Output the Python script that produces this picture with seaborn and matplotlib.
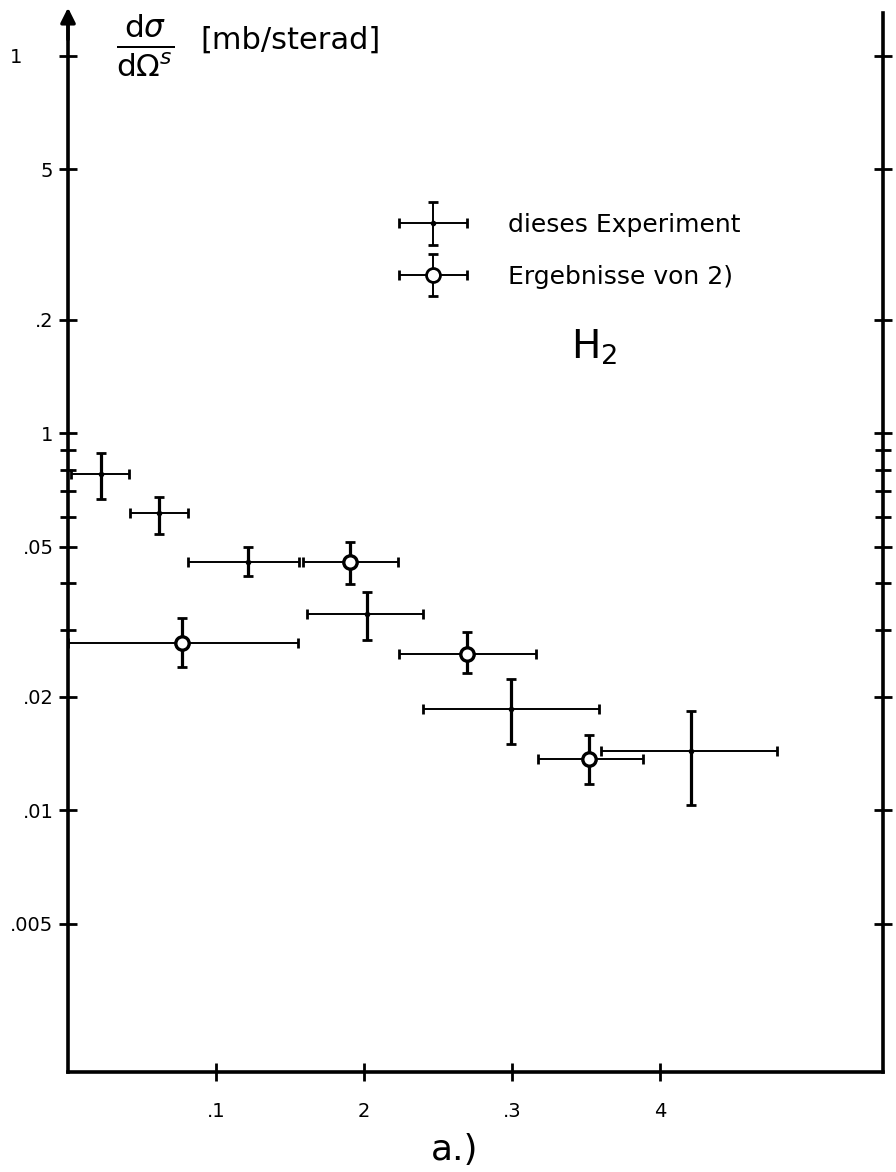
import seaborn as sns
import matplotlib.pyplot as plt
import numpy as np
import pandas as pd
from matplotlib.container import ErrorbarContainer
from matplotlib.legend_handler import HandlerErrorbar

# dieses Experiment (Kreuze)
exp_x = [0.0223, 0.0615, 0.1216, 0.2020, 0.2993, 0.4210]
exp_xlo = [0.002, 0.0419, 0.0811, 0.1615, 0.2400, 0.3600]
exp_xhi = [0.0412, 0.0811, 0.1560, 0.2400, 0.3588, 0.4790]
exp_y = [0.0778, 0.0614, 0.0455, 0.0331, 0.01853, 0.01434]
exp_ylo = [0.0667, 0.0540, 0.0418, 0.0282, 0.01496, 0.01031]
exp_yhi = [0.0885, 0.0676, 0.0498, 0.0379, 0.02226, 0.01831]

# Ergebnisse von 2) (Kreise)
ref_x = [0.0770, 0.1905, 0.2696, 0.3520]
ref_xlo = [0.0, 0.1588, 0.2236, 0.3176]
ref_xhi = [0.1554, 0.2230, 0.3162, 0.3885]
ref_y = [0.0277, 0.0455, 0.0259, 0.01365]
ref_ylo = [0.0239, 0.0398, 0.0231, 0.01172]
ref_yhi = [0.0323, 0.0514, 0.0297, 0.0158]

y_ticks = [1, 0.5, 0.2, 0.1, 0.05, 0.02, 0.01, 0.005]
y_labels = ["1     ", "5", ".2", "1", ".05", ".02", ".01", ".005"]
y_minor = [0.09, 0.08, 0.07, 0.06, 0.04, 0.03]
x_ticks = [0.1, 0.2, 0.3, 0.4]
x_labels = [".1", "2", ".3", "4"]

sns.set_theme(style="ticks")
plt.rcParams['font.family'] = ['DejaVu Sans']
plt.rcParams['text.color'] = 'black'

df_exp = pd.DataFrame({'x': exp_x, 'xlo': exp_xlo, 'xhi': exp_xhi,
                       'y': exp_y, 'ylo': exp_ylo, 'yhi': exp_yhi})
df_ref = pd.DataFrame({'x': ref_x, 'xlo': ref_xlo, 'xhi': ref_xhi,
                       'y': ref_y, 'ylo': ref_ylo, 'yhi': ref_yhi})

fig = plt.figure(figsize=(8.96, 11.72), dpi=100)
ax = fig.add_axes([0.0759, 0.0853, 0.9096, 0.9036])


def fehlerbalken(df, fmt, ms, label):
    eb = ax.errorbar(df['x'], df['y'],
                     xerr=[df['x'] - df['xlo'], df['xhi'] - df['x']],
                     yerr=[df['y'] - df['ylo'], df['yhi'] - df['y']],
                     fmt=fmt, ms=ms, mfc='white', mec='black', mew=2, color='black',
                     ecolor='black', elinewidth=1.5, capsize=3.5, capthick=2,
                     label=label, zorder=3)
    bars = eb.lines[2]
    bars[0].set_linewidth(1.4)
    bars[1].set_linewidth(2.3)
    return eb


eb1 = fehlerbalken(df_exp, '.', 4, 'dieses Experiment')
eb2 = fehlerbalken(df_ref, 'o', 10, 'Ergebnisse von 2)')
sns.scatterplot(data=df_ref, x='x', y='y', marker='o', s=85, color='white',
                edgecolor='black', linewidth=2, zorder=4, ax=ax, legend=False)

ax.set_yscale('log')
ax.set_xlim(0, 0.5507)
ax.set_ylim(0.00202, 1.3)
ax.set_yticks(y_ticks)
ax.set_yticklabels(y_labels)
ax.set_yticks(y_minor, minor=True)
ax.yaxis.set_minor_formatter(plt.NullFormatter())
ax.set_xticks(x_ticks)
ax.set_xticklabels(x_labels)
ax.set_xlabel('')
ax.set_ylabel('')

ax.tick_params(axis='y', which='major', direction='inout', length=13, width=2,
               labelsize=14, pad=4, left=True, right=True, colors='black')
ax.tick_params(axis='y', which='minor', direction='inout', length=11, width=2,
               left=True, right=True, colors='black')
ax.tick_params(axis='x', which='major', direction='inout', length=13, width=2,
               labelsize=14, pad=15, colors='black')

for side in ['left', 'bottom', 'right']:
    ax.spines[side].set_linewidth(2.6)
    ax.spines[side].set_color('black')
ax.spines['top'].set_visible(False)

# Pfeil an der y-Achse
ax.annotate('', xy=(0, 1.005), xytext=(0, 0.975), xycoords='axes fraction',
            arrowprops=dict(arrowstyle='-|>', color='black', lw=2.5,
                            mutation_scale=22, shrinkA=0, shrinkB=0),
            annotation_clip=False)

leg = ax.legend(handles=[eb1, eb2], loc='upper left', bbox_to_anchor=(0.405, 0.811),
                frameon=False, fontsize=18, handlelength=2.8, handletextpad=1.6,
                labelspacing=1.1, borderpad=0, borderaxespad=0, numpoints=1,
                handler_map={ErrorbarContainer: HandlerErrorbar(xerr_size=1.35, yerr_size=0.85)})
for t in leg.get_texts():
    t.set_color('black')

fig.text(145 / 896, 1 - 45 / 1172, r'$\frac{\mathsf{d}\sigma}{\mathsf{d}\Omega^{s}}$',
         fontsize=32, ha='center', va='center', color='black')
fig.text(200 / 896, 1 - 40 / 1172, '[mb/sterad]', fontsize=22, ha='left', va='center',
         color='black')
ax.text(0.645, 0.684, r'H$_{2}$', transform=ax.transAxes, fontsize=28, ha='center',
        va='center', color='black')
fig.text(455 / 896, 1 - 1150 / 1172, 'a.)', fontsize=26, ha='center', va='center',
         color='black')

plt.savefig('out.png', dpi=100)
